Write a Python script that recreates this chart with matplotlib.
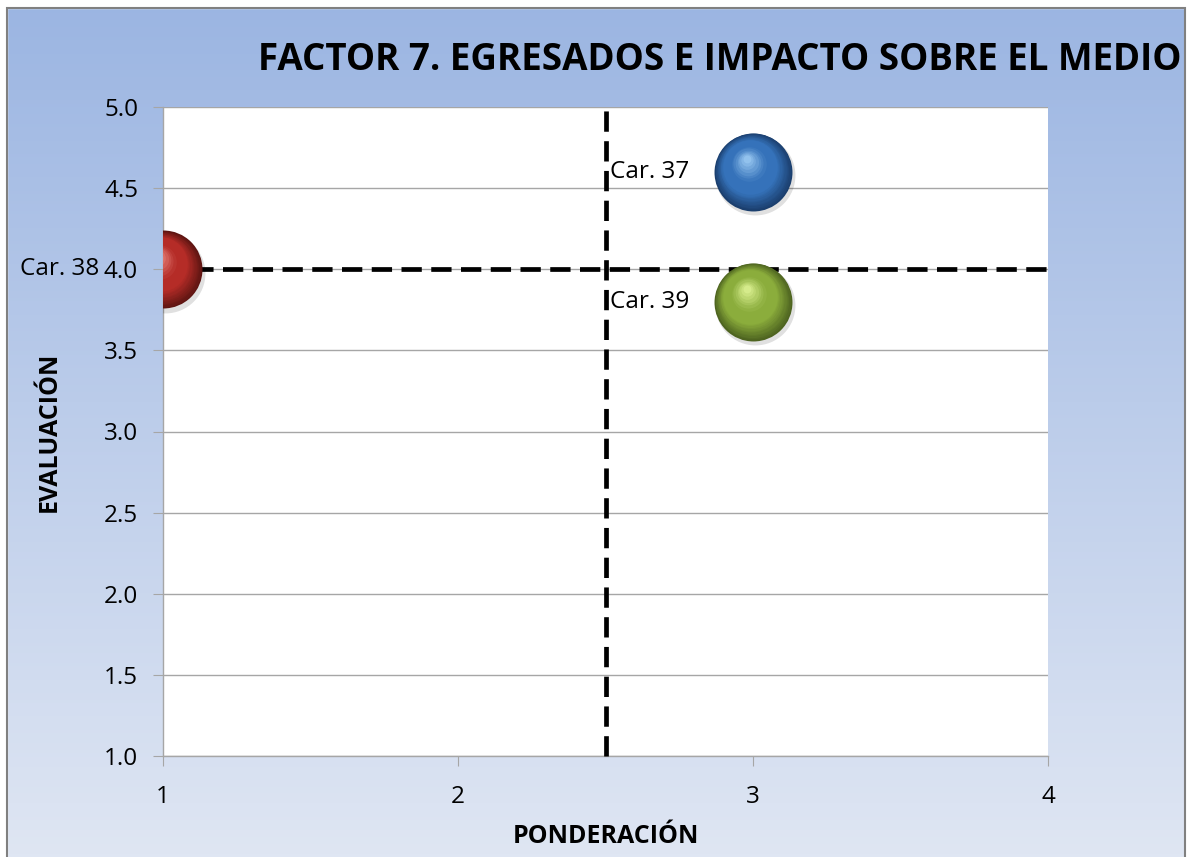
import numpy as np
import matplotlib
matplotlib.use("Agg")
import matplotlib.pyplot as plt
import matplotlib.transforms as mtransforms
from matplotlib.patches import Rectangle

# Data
labels = ["Car. 37", "Car. 38", "Car. 39"]
ponderacion = [3, 1, 3]
evaluacion = [4.6, 4.0, 3.8]
base_colors = ["#3572BA", "#B52C27", "#8BAD3C"]
light_colors = ["#9FCDF5", "#F59A90", "#E0F596"]
dark_colors = ["#1B3F6E", "#5E1512", "#4E6420"]
x_ref = 2.5
y_ref = 4.0
x_ticks = [1, 2, 3, 4]
y_ticks = [1.0, 1.5, 2.0, 2.5, 3.0, 3.5, 4.0, 4.5, 5.0]
title = "FACTOR 7. EGRESADOS E IMPACTO SOBRE EL MEDIO"

plt.rcParams['font.family'] = ['Open Sans', 'DejaVu Sans']

fig = plt.figure(figsize=(11.89, 8.57), dpi=100)

# Background gradient
bg = fig.add_axes([0, 0, 1, 1], zorder=-10)
grad = np.linspace(0, 1, 256).reshape(-1, 1)
top = np.array([0x9B, 0xB5, 0xE2]) / 255
bot = np.array([0xDF, 0xE6, 0xF3]) / 255
img = top[None, None, :] * (1 - grad[:, :, None]) + bot[None, None, :] * grad[:, :, None]
bg.imshow(img, aspect='auto', extent=[0, 1, 0, 1], origin='upper')
bg.set_xlim(0, 1); bg.set_ylim(0, 1)
bg.axis('off')
bg.add_patch(Rectangle((0, (857-8)/857), 1, 0.02, color='white', transform=bg.transAxes))
bg.add_patch(Rectangle((0, 0), 7/1189, 1, color='white', transform=bg.transAxes))
bg.add_patch(Rectangle((1185/1189, 0), 0.01, 1, color='white', transform=bg.transAxes))
bg.add_patch(Rectangle((7/1189, -0.01), (1185-7)/1189, (857-8)/857 + 0.01, fill=False,
                       edgecolor='#808080', linewidth=1.5, transform=bg.transAxes))

ax = fig.add_axes([163/1189, 1 - 756/857, (1048-163)/1189, (756-107)/857])
ax.set_facecolor('white')
ax.set_xlim(1, 4)
ax.set_ylim(1.0, 5.0)
ax.set_xticks(x_ticks)
ax.set_yticks(y_ticks)
ax.set_yticklabels([f"{v:.1f}" for v in y_ticks])
ax.set_xticklabels([str(v) for v in x_ticks])
ax.yaxis.grid(True, color='#A6A6A6', linewidth=1)
ax.xaxis.grid(False)
ax.set_axisbelow(True)
for s in ['top', 'right']:
    ax.spines[s].set_visible(False)
for s in ['left', 'bottom']:
    ax.spines[s].set_color('#A6A6A6')
    ax.spines[s].set_linewidth(1)
ax.tick_params(axis='both', direction='out', length=7, color='#A6A6A6', labelsize=17.5,
               labelcolor='black')
ax.tick_params(axis='x', pad=14)
ax.tick_params(axis='y', pad=11)

# reference lines
ax.axhline(y_ref, color='black', linewidth=3.4, linestyle=(0, (4.3, 2)), zorder=5, clip_on=False,
           xmax=1.006)
ax.axvline(x_ref, color='black', linewidth=3.4, linestyle=(0, (4.3, 2)), zorder=5, clip_on=False,
           ymax=1.005)

# Bubbles with a simple shading
size = 3150
for i in range(len(labels)):
    ax.scatter([ponderacion[i]], [evaluacion[i]], s=size * 1.05, color='#000000', alpha=0.12,
               zorder=5.5, linewidths=0,
               transform=mtransforms.offset_copy(ax.transData, fig=fig, x=1.5, y=-2.5, units='points'))
    ax.scatter([ponderacion[i]], [evaluacion[i]], s=size, color=dark_colors[i], zorder=6,
               linewidths=0)
    steps = 10
    for k in range(1, steps + 1):
        f = k / steps
        c = np.array(matplotlib.colors.to_rgb(dark_colors[i])) * (1 - f) + np.array(
            matplotlib.colors.to_rgb(base_colors[i])) * f
        tr = mtransforms.offset_copy(ax.transData, fig=fig, x=-2.5 * f, y=3.5 * f, units='points')
        ax.scatter([ponderacion[i]], [evaluacion[i]], s=size * (1 - 0.3 * f) ** 2, color=c,
                   zorder=6 + 0.01 * k, linewidths=0, transform=tr)
    for k in range(1, 8):
        f = k / 7
        c = np.array(matplotlib.colors.to_rgb(base_colors[i])) * (1 - f) + np.array(
            matplotlib.colors.to_rgb(light_colors[i])) * f
        tr = mtransforms.offset_copy(ax.transData, fig=fig, x=-3 - 1.5 * f, y=5 + 4 * f, units='points')
        ax.scatter([ponderacion[i]], [evaluacion[i]], s=size * (0.5 * (1 - 0.8 * f)) ** 2, color=c,
                   zorder=6.2 + 0.01 * k, linewidths=0, transform=tr, alpha=0.55)

# labels
for i in range(len(labels)):
    ax.annotate(labels[i], (ponderacion[i], evaluacion[i]), xytext=(-46, 0),
                textcoords='offset points', ha='right', va='center', fontsize=17.5,
                color='black', zorder=7, annotation_clip=False)

fig.text((260 + 1180) / 2 / 1189, 1 - 60 / 857, title, ha='center', va='center',
         fontsize=26.5, fontweight='bold', color='black')
ax.set_xlabel("PONDERACIÓN", fontsize=18, fontweight='bold', labelpad=11)
ax.set_ylabel("EVALUACIÓN", fontsize=18, fontweight='bold', labelpad=30)

fig.savefig("out.png", dpi=100)
